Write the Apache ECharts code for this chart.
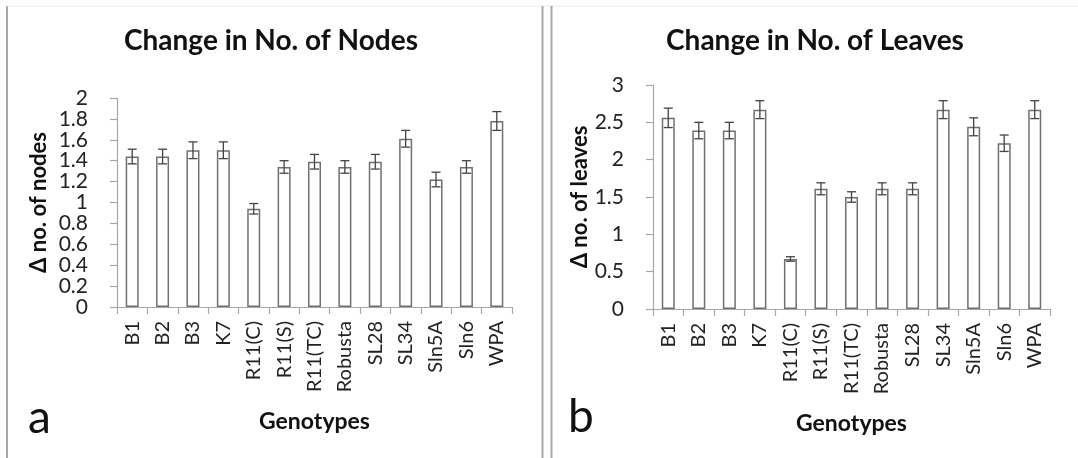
<!DOCTYPE html>
<html><head><meta charset="utf-8">
<script src="https://cdn.jsdelivr.net/npm/echarts@6/dist/echarts.min.js"></script>
<style>html,body{margin:0;padding:0;background:#fff}#c{width:1078px;height:458px}</style>
</head><body><div id="c"></div>
<script>
const genotypes = ['B1','B2','B3','K7','R11(C)','R11(S)','R11(TC)','Robusta','SL28','SL34','Sln5A','Sln6','WPA'];
const nodesMean = [1.44,1.44,1.50,1.50,0.94,1.34,1.39,1.34,1.39,1.61,1.22,1.34,1.78];
const nodesErr  = [0.07,0.07,0.08,0.08,0.05,0.06,0.07,0.06,0.07,0.08,0.07,0.06,0.09];
const leavesMean = [2.56,2.39,2.39,2.67,0.67,1.61,1.50,1.61,1.61,2.67,2.44,2.22,2.67];
const leavesErr  = [0.13,0.11,0.11,0.12,0.03,0.08,0.07,0.08,0.08,0.12,0.12,0.11,0.12];
const titles = ['Change in No. of Nodes','Change in No. of Leaves'];
const yNames = ['\u0394 no. of nodes','\u0394 no. of leaves'];

const FONT = 'Lato, "Open Sans", sans-serif';
const chart = echarts.init(document.getElementById('c'));

function errSeries(idx, mean, err){
  return {
    type:'custom', xAxisIndex:idx, yAxisIndex:idx, z:5,
    data: mean.map((m,i)=>[i, m-err[i], m+err[i]]),
    renderItem:function(params, api){
      const lo = api.coord([api.value(0), api.value(1)]);
      const hi = api.coord([api.value(0), api.value(2)]);
      const hw = 4.5;
      const st = {stroke:'#444', lineWidth:1.3, fill:null};
      return {type:'group', children:[
        {type:'line', shape:{x1:lo[0],y1:lo[1],x2:hi[0],y2:hi[1]}, style:st},
        {type:'line', shape:{x1:lo[0]-hw,y1:lo[1],x2:lo[0]+hw,y2:lo[1]}, style:st},
        {type:'line', shape:{x1:hi[0]-hw,y1:hi[1],x2:hi[0]+hw,y2:hi[1]}, style:st}
      ]};
    }
  };
}

const axisLineStyle = {color:'#a8a8a8', width:1.2};
function xAx(idx){
  return {
    type:'category', gridIndex:idx, data:genotypes,
    axisLine:{lineStyle:axisLineStyle},
    axisTick:{show:true, length:7, lineStyle:axisLineStyle},
    axisLabel:{rotate:90, fontSize:20, color:'#222', fontFamily:FONT, margin:14, interval:0},
    name:'Genotypes', nameLocation:'middle', nameGap:103,
    nameTextStyle:{fontSize:23, fontWeight:'bold', color:'#111', fontFamily:FONT}
  };
}
function yAx(idx, max, interval, gap){
  return {
    type:'value', gridIndex:idx, min:0, max:max, interval:interval,
    axisLine:{show:true, lineStyle:axisLineStyle},
    axisTick:{show:true, length:7, lineStyle:axisLineStyle},
    splitLine:{show:false},
    axisLabel:{fontSize:21, color:'#222', fontFamily:FONT, margin:29},
    name:yNames[idx], nameLocation:'middle', nameGap:gap, nameRotate:90,
    nameTextStyle:{fontSize:22, fontWeight:'bold', color:'#111', fontFamily:FONT}
  };
}

chart.setOption({
  animation:false,
  backgroundColor:'#fff',
  title:[
    {text:titles[0], left:266, top:22, textAlign:'center',
     textStyle:{fontSize:28, fontWeight:'bold', color:'#111', fontFamily:FONT}},
    {text:titles[1], left:810, top:22, textAlign:'center',
     textStyle:{fontSize:28, fontWeight:'bold', color:'#111', fontFamily:FONT}}
  ],
  grid:[
    {left:117, right:566, top:98, bottom:151},
    {left:653, right:28, top:85, bottom:149}
  ],
  xAxis:[xAx(0), xAx(1)],
  yAxis:[yAx(0, 2, 0.2, 67), yAx(1, 3, 0.5, 58)],
  series:[
    {type:'bar', xAxisIndex:0, yAxisIndex:0, data:nodesMean, barWidth:13,
     itemStyle:{color:'#fff', borderColor:'#707070', borderWidth:1.5}},
    errSeries(0, nodesMean, nodesErr),
    {type:'bar', xAxisIndex:1, yAxisIndex:1, data:leavesMean, barWidth:13,
     itemStyle:{color:'#fff', borderColor:'#707070', borderWidth:1.5}},
    errSeries(1, leavesMean, leavesErr)
  ],
  graphic:[
    {type:'line', shape:{x1:7,y1:6,x2:7,y2:458}, style:{stroke:'#a8a8a8', lineWidth:2}},
    {type:'line', shape:{x1:7,y1:6,x2:1078,y2:6}, style:{stroke:'#ececec', lineWidth:1}},
    {type:'line', shape:{x1:542.5,y1:6,x2:542.5,y2:458}, style:{stroke:'#a8a8a8', lineWidth:2}},
    {type:'line', shape:{x1:551.5,y1:6,x2:551.5,y2:458}, style:{stroke:'#a8a8a8', lineWidth:2}},
    {type:'text', left:28, top:395, style:{text:'a', fontSize:46, fill:'#111', fontFamily:FONT}},
    {type:'text', left:568, top:394, style:{text:'b', fontSize:46, fill:'#111', fontFamily:FONT}}
  ]
});
</script></body></html>
